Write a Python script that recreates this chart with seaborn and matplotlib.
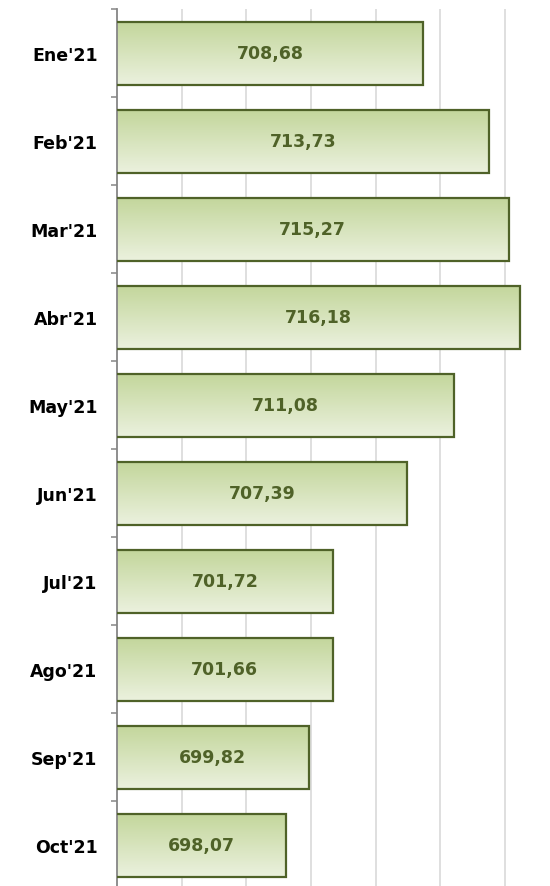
import numpy as np
import pandas as pd
import matplotlib
matplotlib.use("Agg")
import matplotlib.pyplot as plt
import seaborn as sns
from matplotlib.colors import to_rgb

months = ["Ene'21", "Feb'21", "Mar'21", "Abr'21", "May'21",
          "Jun'21", "Jul'21", "Ago'21", "Sep'21", "Oct'21"]
values = [708.68, 713.73, 715.27, 716.18, 711.08,
          707.39, 701.72, 701.66, 699.82, 698.07]

x_min, x_max = 685, 717
edge_green = "#4F6228"
top_green = "#C3D69B"
bottom_green = "#EBF1DE"

df = pd.DataFrame({"mes": months, "valor": values})

sns.set_style("white")
plt.rcParams["font.family"] = ["DejaVu Sans"]

fig = plt.figure(figsize=(5.5, 8.87), dpi=100)
ax = fig.add_axes([117 / 550, -3.3 / 887, 414 / 550, 880 / 887])

sns.barplot(data=df, x="valor", y="mes", orient="h", width=0.72,
            color=top_green, ax=ax, zorder=2)

# vertical gradient inside each bar
grad = np.array([to_rgb(top_green), to_rgb(bottom_green)])
grad = np.linspace(grad[0], grad[1], 64)[:, None, :]
for patch, v in zip(ax.patches, values):
    y0 = patch.get_y()
    h = patch.get_height()
    ax.imshow(grad, extent=(x_min, v, y0 + h, y0), origin="upper",
              aspect="auto", interpolation="bilinear", zorder=2)
    patch.set_facecolor("none")
    patch.set_edgecolor(edge_green)
    patch.set_linewidth(1.6)
    patch.set_zorder(3)
    ax.text((x_min + v) / 2, y0 + h / 2, f"{v:.2f}".replace(".", ","),
            ha="center", va="center", fontsize=12.5, fontweight="bold",
            family="DejaVu Sans", color=edge_green, zorder=4)

ax.set_xlim(x_min, x_max)
ax.set_ylim(len(months) - 0.5, -0.5)
ax.set_xticks(np.arange(690, 716, 5))
ax.set_xticklabels([])
ax.tick_params(axis="x", length=0)
ax.grid(axis="x", color="#D9D9D9", linewidth=1.2, zorder=0)
ax.set_axisbelow(True)

ax.set_yticks(np.arange(-0.5, len(months), 1), minor=True)
ax.tick_params(axis="y", which="minor", left=True, length=4.5, width=1.1,
               color="#868686")
ax.tick_params(axis="y", which="major", left=True, length=0, pad=14)
for lab in ax.get_yticklabels():
    lab.set_fontweight("bold")
    lab.set_fontsize(12.5)
    lab.set_family("DejaVu Sans")
    lab.set_color("black")

ax.set_xlabel("")
ax.set_ylabel("")
for side in ["top", "right", "bottom"]:
    ax.spines[side].set_visible(False)
ax.spines["left"].set_color("#868686")
ax.spines["left"].set_linewidth(1.3)

fig.savefig("out.png", dpi=100)
